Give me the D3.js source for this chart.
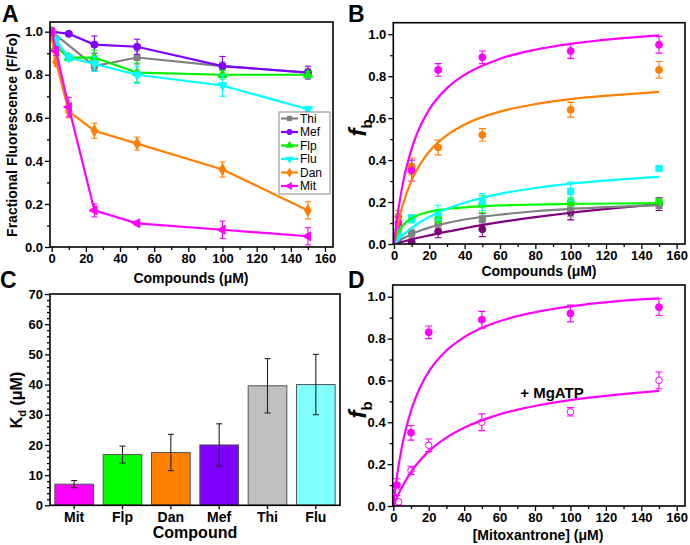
<!DOCTYPE html>
<html><head><meta charset="utf-8">
<script src="https://cdn.jsdelivr.net/npm/d3@7"></script>
<style>
body{margin:0;background:#fff}
svg{display:block}
text{font-family:"Liberation Sans",Arial,Helvetica,sans-serif}
</style>
</head><body>
<svg id="chart" width="690" height="545"></svg>
<script>
// ---------- Panel A data: fractional fluorescence ----------
const seriesNamesA = ["Thi","Mef","Flp","Flu","Dan","Mit"];
const thiXA = [0,25,50,100,150];
const thiYA = [1.0,0.84,0.88,0.84,0.81];
const thiEA = [0,0.02,0.03,0.02,0.02];
const mefXA = [0,10,25,50,100,150];
const mefYA = [1.0,0.99,0.94,0.93,0.84,0.81];
const mefEA = [0,0.005,0.04,0.035,0.045,0.03];
const flpXA = [0,2.5,10,25,50,100,150];
const flpYA = [1.0,0.93,0.88,0.88,0.81,0.80,0.80];
const flpEA = [0,0.02,0.015,0.035,0.045,0.02,0.015];
const fluXA = [0,2.5,10,25,50,100,150];
const fluYA = [1.0,0.96,0.88,0.85,0.80,0.75,0.64];
const fluEA = [0,0.02,0.015,0.035,0.04,0.05,0.01];
const danXA = [0,2.5,10,25,50,100,150];
const danYA = [0.98,0.86,0.63,0.54,0.48,0.36,0.17];
const danEA = [0,0.02,0.03,0.035,0.03,0.035,0.04];
const mitXA = [0,2.5,10,25,50,100,150];
const mitYA = [1.0,0.91,0.65,0.17,0.11,0.08,0.05];
const mitEA = [0,0.02,0.045,0.03,0.01,0.04,0.04];
const colorsA = ["#808080","#8000ff","#00f000","#00ffff","#ff8000","#ff00ff"];
const xTicksAB = [0,20,40,60,80,100,120,140,160];
const yTicksFrac = [0,0.2,0.4,0.6,0.8,1.0];

// ---------- Panel B data: fraction bound ----------
const mitXB = [2.5,10,25,50,100,150];
const mitYB = [0.10,0.35,0.83,0.89,0.92,0.95];
const mitEB = [0.03,0.05,0.03,0.03,0.035,0.04];
const danXB = [2.5,10,25,50,100,150];
const danYB = [0.13,0.37,0.46,0.52,0.64,0.83];
const danEB = [0.03,0.04,0.035,0.03,0.035,0.04];
const fluXB = [2.5,10,25,50,100,150];
const fluYB = [0.05,0.12,0.15,0.20,0.25,0.36];
const fluEB = [0.02,0.02,0.035,0.04,0.045,0.01];
const flpXB = [2.5,10,25,50,100,150];
const flpYB = [0.07,0.12,0.12,0.19,0.20,0.20];
const flpEB = [0.02,0.015,0.02,0.04,0.02,0.015];
const thiXB = [2.5,10,25,50,100,150];
const thiYB = [0.02,0.05,0.10,0.12,0.16,0.19];
const thiEB = [0.01,0.02,0.02,0.025,0.03,0.02];
const mefXB = [10,25,50,100,150];
const mefYB = [0.01,0.06,0.07,0.15,0.19];
const mefEB = [0.01,0.03,0.035,0.035,0.03];
// fitted curves
const curveX = [0,2,5,10,15,20,30,40,60,80,100,125,150];
const mitCurveB = [0,0.137,0.288,0.455,0.564,0.642,0.743,0.807,0.883,0.926,0.954,0.978,0.995];
const danCurveB = [0,0.087,0.187,0.304,0.383,0.441,0.519,0.570,0.631,0.667,0.691,0.710,0.725];
const fluCurveB = [0,0.018,0.042,0.077,0.105,0.129,0.168,0.197,0.239,0.267,0.288,0.306,0.320];
const flpCurveB = [0,0.048,0.088,0.123,0.142,0.154,0.167,0.175,0.184,0.188,0.191,0.193,0.195];
const thiCurveB = [0,0.011,0.026,0.047,0.064,0.078,0.100,0.117,0.140,0.156,0.167,0.177,0.185];
const mefCurveB = [0,0.0045,0.011,0.022,0.032,0.041,0.059,0.075,0.104,0.128,0.149,0.171,0.190];
const colorsB = {Mit:"#ff00ff",Dan:"#ff8000",Flu:"#00ffff",Flp:"#00ff00",Thi:"#808080",Mef:"#800080"};

// ---------- Panel C data: Kd ----------
const kdNames = ["Mit","Flp","Dan","Mef","Thi","Flu"];
const kdValues = [7.0,16.8,17.5,20.0,39.6,40.0];
const kdErrors = [1.2,2.8,6.0,7.0,9.0,10.0];
const kdColors = ["#ff00ff","#00ff00","#ff8000","#8000ff","#c0c0c0","#80ffff"];
const yTicksC = [0,10,20,30,40,50,60,70];

// ---------- Panel D data: mitoxantrone +/- MgATP ----------
const mitXD = [2,10,20,50,100,150];
const mitYD = [0.10,0.35,0.83,0.89,0.92,0.95];
const mitED = [0.03,0.035,0.03,0.04,0.04,0.04];
const atpXD = [2,3,10,20,50,100,150];
const atpYD = [0.07,0.02,0.17,0.29,0.40,0.45,0.60];
const atpED = [0.02,0.01,0.02,0.03,0.04,0.02,0.04];
const mitCurveD = [0,0.137,0.288,0.455,0.564,0.642,0.743,0.807,0.883,0.926,0.954,0.978,0.992];
const atpCurveD = [0,0.040,0.092,0.162,0.217,0.261,0.327,0.374,0.438,0.478,0.506,0.531,0.550];

// ================= drawing =================
const svg = d3.select("#chart");
const zip = (xs, ys, es) => xs.map((x,i)=>({x, y:ys[i], e: es ? es[i] : 0}));

function styleAxis(g, fs){
  g.select(".domain").remove();
  g.selectAll(".tick line").attr("stroke","#000").attr("stroke-width",1.3);
  g.selectAll(".tick text").attr("fill","#000").style("font-size",fs+"px").style("font-weight","bold")
   .style("font-family","'Liberation Sans',Arial,sans-serif");
}
function frame(x, y){
  const [x0,x1] = x.range(), [y0,y1] = y.range();
  svg.append("rect").attr("x",x0).attr("y",y1).attr("width",x1-x0).attr("height",y0-y1)
    .attr("fill","none").attr("stroke","#000").attr("stroke-width",1.6);
}
function axes(x, y, xMaj, xMin, yMaj, yMin, yFmt){
  const bottom = y.range()[0], left = x.range()[0];
  const gx = svg.append("g").attr("transform",`translate(0,${bottom})`)
    .call(d3.axisBottom(x).tickValues(xMaj).tickSize(5).tickPadding(2).tickFormat(d3.format("d")));
  styleAxis(gx, 13);
  const gxm = svg.append("g").attr("transform",`translate(0,${bottom})`)
    .call(d3.axisBottom(x).tickValues(xMin).tickSize(3).tickFormat(""));
  styleAxis(gxm, 13);
  const gy = svg.append("g").attr("transform",`translate(${left},0)`)
    .call(d3.axisLeft(y).tickValues(yMaj).tickSize(5).tickPadding(2).tickFormat(d3.format(yFmt)));
  styleAxis(gy, 13);
  const gym = svg.append("g").attr("transform",`translate(${left},0)`)
    .call(d3.axisLeft(y).tickValues(yMin).tickSize(3).tickFormat(""));
  styleAxis(gym, 13);
}
function errorBars(g, x, y, pts, color, cap){
  pts.filter(p=>p.e>0).forEach(p=>{
    const cx = x(p.x), t = y(p.y+p.e), b = y(Math.max(0,p.y-p.e));
    g.append("line").attr("x1",cx).attr("x2",cx).attr("y1",t).attr("y2",b).attr("stroke",color).attr("stroke-width",1.1);
    g.append("line").attr("x1",cx-cap).attr("x2",cx+cap).attr("y1",t).attr("y2",t).attr("stroke",color).attr("stroke-width",1.1);
    g.append("line").attr("x1",cx-cap).attr("x2",cx+cap).attr("y1",b).attr("y2",b).attr("stroke",color).attr("stroke-width",1.1);
  });
}
function markers(g, x, y, pts, symType, size, fill, stroke, rot){
  g.selectAll(null).data(pts).enter().append("path")
    .attr("d", d3.symbol().type(symType).size(size))
    .attr("transform", d=>`translate(${x(d.x)},${y(d.y)}) rotate(${rot||0})`)
    .attr("fill", fill).attr("stroke", stroke).attr("stroke-width", 1);
}
function label(x, y, txt, fs, opts){
  opts = opts || {};
  const t = svg.append("text").attr("x",x).attr("y",y).attr("text-anchor",opts.anchor||"middle")
    .style("font-size",fs+"px").style("font-weight",opts.weight||"bold").attr("fill","#000");
  if (opts.rotate) t.attr("transform",`rotate(-90,${x},${y})`);
  t.text(txt);
  return t;
}
const clipId = (id, x, y) => {
  const [x0,x1] = x.range(), [y0,y1] = y.range();
  svg.append("clipPath").attr("id",id).append("rect").attr("x",x0).attr("y",y1).attr("width",x1-x0).attr("height",y0-y1);
};

// ---------- Panel A ----------
{
  const x = d3.scaleLinear().domain([-1,164.7]).range([50,333]);
  const y = d3.scaleLinear().domain([0,1.045]).range([247,22]);
  axes(x, y, xTicksAB, d3.range(10,160,20), yTicksFrac, [0.1,0.3,0.5,0.7,0.9], ".1f");
  clipId("clipA", x, y);
  const g = svg.append("g").attr("clip-path","url(#clipA)");
  const data = [zip(thiXA,thiYA,thiEA), zip(mefXA,mefYA,mefEA), zip(flpXA,flpYA,flpEA),
                zip(fluXA,fluYA,fluEA), zip(danXA,danYA,danEA), zip(mitXA,mitYA,mitEA)];
  const syms = [[d3.symbolSquare,36,0],[d3.symbolCircle,40,0],[d3.symbolTriangle,36,0],
                [d3.symbolTriangle,36,180],[d3.symbolDiamond,40,0],[d3.symbolTriangle,36,-90]];
  const line = d3.line().x(d=>x(d.x)).y(d=>y(d.y));
  data.forEach((pts,i)=>{
    const c = colorsA[i];
    errorBars(g, x, y, pts, c, 3);
    g.append("path").attr("d", line(pts)).attr("fill","none").attr("stroke",c).attr("stroke-width",2.2);
    markers(g, x, y, pts, syms[i][0], syms[i][1], c, c, syms[i][2]);
  });
  frame(x, y);
  // legend
  const lg = svg.append("g");
  lg.append("rect").attr("x",279).attr("y",112).attr("width",51).attr("height",82)
    .attr("fill","#fff").attr("stroke","#888").attr("stroke-width",1);
  seriesNamesA.forEach((n,i)=>{
    const yy = 118.5 + i*13.5;
    lg.append("line").attr("x1",281).attr("x2",298).attr("y1",yy).attr("y2",yy).attr("stroke",colorsA[i]).attr("stroke-width",2.2);
    lg.append("path").attr("d", d3.symbol().type(syms[i][0]).size(28)())
      .attr("transform",`translate(289.5,${yy}) rotate(${syms[i][2]})`).attr("fill",colorsA[i]);
    lg.append("text").attr("x",300).attr("y",yy+4).style("font-size","12px").attr("fill","#000").text(n);
  });
  label(191, 283, "Compounds (\u03BCM)", 14);
  label(17, 135, "Fractional Fluorescence (F/Fo)", 14, {rotate:true});
  label(2, 22, "A", 23, {anchor:"start"});
}

// ---------- Panel B ----------
{
  const x = d3.scaleLinear().domain([-0.4,164.7]).range([393.3,685]);
  const y = d3.scaleLinear().domain([0,1.055]).range([244,22.7]);
  axes(x, y, xTicksAB, d3.range(10,160,20), yTicksFrac, [0.1,0.3,0.5,0.7,0.9], ".1f");
  clipId("clipB", x, y);
  const g = svg.append("g").attr("clip-path","url(#clipB)");
  const sets = [
    ["Mef", zip(mefXB,mefYB,mefEB), mefCurveB, d3.symbolCircle],
    ["Thi", zip(thiXB,thiYB,thiEB), thiCurveB, d3.symbolSquare],
    ["Flp", zip(flpXB,flpYB,flpEB), flpCurveB, d3.symbolCircle],
    ["Flu", zip(fluXB,fluYB,fluEB), fluCurveB, d3.symbolSquare],
    ["Dan", zip(danXB,danYB,danEB), danCurveB, d3.symbolCircle],
    ["Mit", zip(mitXB,mitYB,mitEB), mitCurveB, d3.symbolCircle]
  ];
  const line = d3.line().x(d=>x(d.x)).y(d=>y(d.y)).curve(d3.curveMonotoneX);
  sets.forEach(([n,pts,cv,sym])=>{
    const c = colorsB[n];
    errorBars(g, x, y, pts, c, 3.5);
    markers(g, x, y, pts, sym, 38, c, c, 0);
  });
  sets.forEach(([n,pts,cv])=>{
    g.append("path").attr("d", line(zip(curveX, cv))).attr("fill","none").attr("stroke",colorsB[n]).attr("stroke-width",2.2);
  });
  frame(x, y);
  label(539, 276, "Compounds (\u03BCM)", 14);
  const t = svg.append("text").attr("transform","translate(366,128) rotate(-90)").attr("text-anchor","middle").attr("fill","#000").style("font-weight","bold");
  t.append("tspan").style("font-size","24px").style("font-style","italic").text("f");
  t.append("tspan").style("font-size","15px").attr("dy",6).text("b");
  label(348, 22, "B", 23, {anchor:"start"});
}

// ---------- Panel C ----------
{
  const x = d3.scaleBand().domain(kdNames).range([50,340]).paddingInner(0.2).paddingOuter(0.1);
  const y = d3.scaleLinear().domain([0,70]).range([505.3,294]);
  const gx = svg.append("g").attr("transform","translate(0,505.3)")
    .call(d3.axisBottom(x).tickSize(4).tickPadding(3));
  styleAxis(gx, 14);
  const gy = svg.append("g").attr("transform","translate(50,0)")
    .call(d3.axisLeft(y).tickValues(yTicksC).tickSize(5).tickPadding(2));
  styleAxis(gy, 13);
  const gym = svg.append("g").attr("transform","translate(50,0)")
    .call(d3.axisLeft(y).tickValues(d3.range(0,70,2).filter(v=>v%10!==0)).tickSize(3).tickFormat(""));
  styleAxis(gym, 13);
  svg.append("g").selectAll("rect").data(kdNames).enter().append("rect")
    .attr("x", d=>x(d)).attr("width", x.bandwidth())
    .attr("y", (d,i)=>y(kdValues[i])).attr("height", (d,i)=>y(0)-y(kdValues[i]))
    .attr("fill", (d,i)=>kdColors[i]).attr("stroke","#555").attr("stroke-width",1);
  const eg = svg.append("g");
  kdNames.forEach((n,i)=>{
    const cx = x(n)+x.bandwidth()/2;
    errorBars(eg, v=>v, y, [{x:cx, y:kdValues[i], e:kdErrors[i]}], "#222", 3);
  });
  frame(d3.scaleLinear().range([50,340]), y);
  label(195, 538, "Compound", 16);
  const t = svg.append("text").attr("transform","translate(22,400) rotate(-90)").attr("text-anchor","middle").attr("fill","#000").style("font-weight","bold");
  t.append("tspan").style("font-size","16px").text("K");
  t.append("tspan").style("font-size","11px").attr("dy",4).text("d");
  t.append("tspan").style("font-size","16px").attr("dy",-4).text(" (\u03BCM)");
  label(0, 288, "C", 23, {anchor:"start"});
}

// ---------- Panel D ----------
{
  const x = d3.scaleLinear().domain([-0.34,164.7]).range([392.7,685]);
  const y = d3.scaleLinear().domain([0,1.056]).range([506,285]);
  axes(x, y, xTicksAB, d3.range(10,160,20), yTicksFrac, [0.1,0.3,0.5,0.7,0.9], ".1f");
  clipId("clipD", x, y);
  const g = svg.append("g").attr("clip-path","url(#clipD)");
  const m = zip(mitXD,mitYD,mitED), a = zip(atpXD,atpYD,atpED);
  errorBars(g, x, y, m, "#ff00ff", 3.5);
  errorBars(g, x, y, a, "#ff00ff", 3.5);
  markers(g, x, y, m, d3.symbolCircle, 38, "#ff00ff", "#ff00ff", 0);
  markers(g, x, y, a, d3.symbolCircle, 34, "#fff", "#ff00ff", 0);
  const line = d3.line().x(d=>x(d.x)).y(d=>y(d.y)).curve(d3.curveMonotoneX);
  g.append("path").attr("d", line(zip(curveX, mitCurveD))).attr("fill","none").attr("stroke","#ff00ff").attr("stroke-width",2.2);
  g.append("path").attr("d", line(zip(curveX, atpCurveD))).attr("fill","none").attr("stroke","#ff00ff").attr("stroke-width",2.2);
  frame(x, y);
  label(552, 398, "+ MgATP", 15);
  label(538, 540, "[Mitoxantrone] (\u03BCM)", 14);
  const t = svg.append("text").attr("transform","translate(366,410) rotate(-90)").attr("text-anchor","middle").attr("fill","#000").style("font-weight","bold");
  t.append("tspan").style("font-size","24px").style("font-style","italic").text("f");
  t.append("tspan").style("font-size","15px").attr("dy",6).text("b");
  label(348, 288, "D", 23, {anchor:"start"});
}
</script>
</body></html>
